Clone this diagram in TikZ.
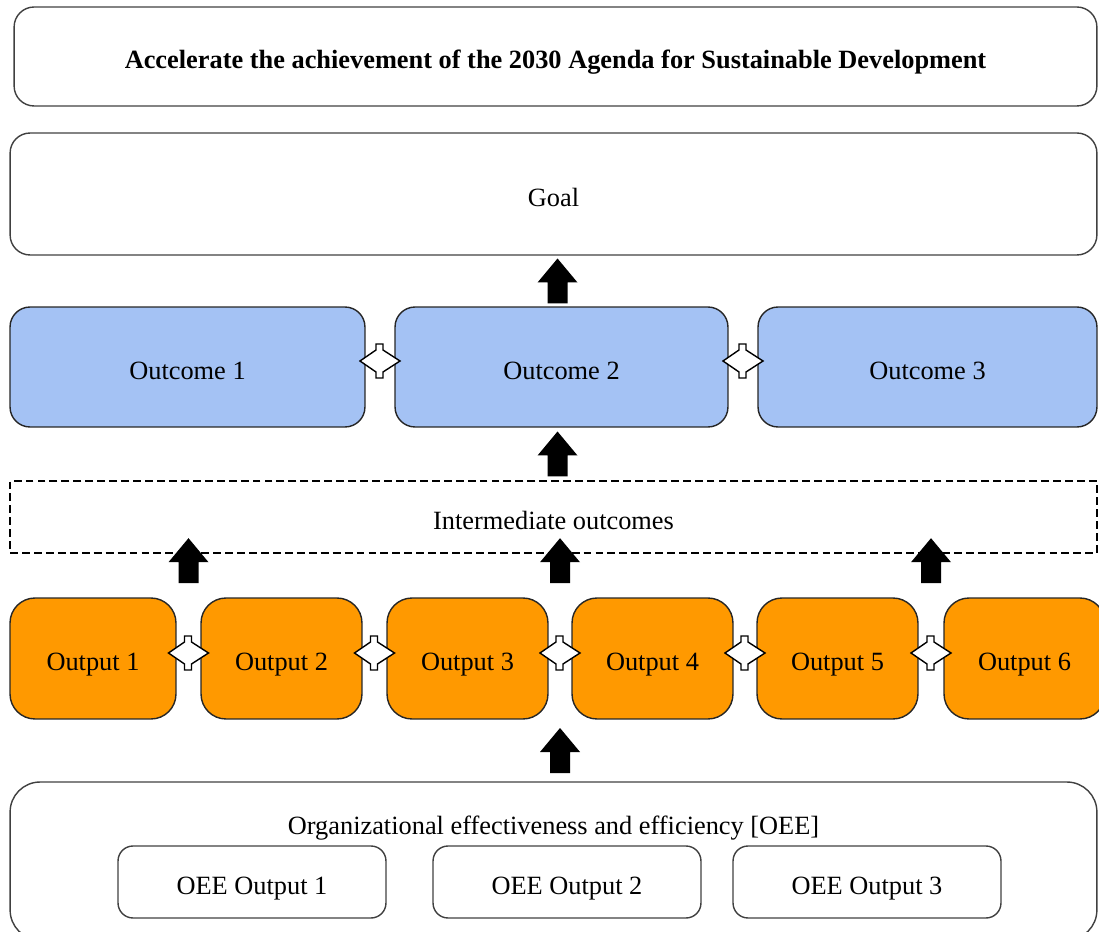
\documentclass[tikz,border=0pt]{standalone}
\usepackage{fontspec}
\setmainfont{Liberation Serif}
\usetikzlibrary{calc}

\definecolor{outcomeblue}{HTML}{A4C2F4}
\definecolor{outputorange}{HTML}{FF9900}

% block arrow pointing up, centred on #1
\newcommand{\uparrowblock}[1]{%
  \fill[black] (#1) ++(-10,22.5) -- ++(0,-21) -- ++(-10,0) -- ++(20,-24)
    -- ++(20,24) -- ++(-10,0) -- ++(0,21) -- cycle;}
% white two-headed link arrow, centred on #1
\newcommand{\linkarrow}[1]{%
  \filldraw[fill=white, draw=black, line width=0.8pt, line join=miter] (#1)
    ++(-20,0) -- ++(16,-11) -- ++(0,-6) -- ++(7,0) -- ++(0,6) -- ++(17,11)
    -- ++(-17,11) -- ++(0,6) -- ++(-7,0) -- ++(0,-6) -- cycle;}

\begin{document}
\begin{tikzpicture}[
  x=0.02cm, y=-0.02cm,
  block/.style = {draw=black!75, line width=0.8pt, rounded corners=0.4cm, minimum height=2.4cm, align=center, text height=14pt, text depth=0pt, font=\fontsize{15}{18}\selectfont},
  outcome/.style = {block, fill=outcomeblue, draw=black!85},
  output/.style = {block, fill=outputorange, draw=black!85, rounded corners=0.5cm, minimum height=2.42cm},
  inner/.style = {block, minimum width=5.36cm, minimum height=1.44cm, rounded corners=0.3cm}
]
  \useasboundingbox (0,0) rectangle (1099,932);

  % Agenda and goal
  \node[block, minimum width=21.66cm, minimum height=1.98cm, font=\bfseries\fontsize{15}{18}\selectfont] (agenda) at (555.5,56.5) {Accelerate the achievement of the 2030 Agenda for Sustainable Development};
  \node[block, minimum width=21.74cm, minimum height=2.44cm] (goal) at (553.5,194) {Goal};

  % Outcomes
  \node[outcome, minimum width=7.1cm] (outcome1) at (187.5,367) {Outcome 1};
  \node[outcome, minimum width=6.66cm] (outcome2) at (561.5,367) {Outcome 2};
  \node[outcome, minimum width=6.78cm] (outcome3) at (927.5,367) {Outcome 3};

  % Intermediate outcomes
  \node[block, dashed, dash pattern=on 4.5pt off 2.3pt, draw=black, rounded corners=0pt, minimum width=21.74cm, minimum height=1.44cm] (inter) at (553.5,517) {Intermediate outcomes};

  % Outputs
  \node[output, minimum width=3.32cm] (output1) at (93,658.5) {Output 1};
  \node[output, minimum width=3.22cm] (output2) at (281.5,658.5) {Output 2};
  \node[output, minimum width=3.22cm] (output3) at (467.5,658.5) {Output 3};
  \node[output, minimum width=3.22cm] (output4) at (652.5,658.5) {Output 4};
  \node[output, minimum width=3.22cm] (output5) at (837.5,658.5) {Output 5};
  \node[output, minimum width=3.22cm] (output6) at (1024.5,658.5) {Output 6};

  % OEE
  \node[block, minimum width=21.74cm, minimum height=3.16cm, rounded corners=0.6cm] (oee) at (553.5,861) {};
  \node[font=\fontsize{15}{18}\selectfont, text height=14pt, text depth=0pt] (oeetitle) at (553.5,822) {Organizational effectiveness and efficiency [OEE]};
  \node[inner] (oee1) at (252,882) {OEE Output 1};
  \node[inner] (oee2) at (567,882) {OEE Output 2};
  \node[inner] (oee3) at (867,882) {OEE Output 3};

  % gaps between neighbours
  \coordinate (link12) at ($(outcome1.east)!0.5!(outcome2.west)$);
  \coordinate (link23) at ($(outcome2.east)!0.5!(outcome3.west)$);
  \coordinate (gap12) at ($(output1.east)!0.5!(output2.west)$);
  \coordinate (gap23) at ($(output2.east)!0.5!(output3.west)$);
  \coordinate (gap34) at ($(output3.east)!0.5!(output4.west)$);
  \coordinate (gap45) at ($(output4.east)!0.5!(output5.west)$);
  \coordinate (gap56) at ($(output5.east)!0.5!(output6.west)$);

  % up arrows
  \uparrowblock{$(goal.south)!0.5!(outcome2.north)$}
  \uparrowblock{$(outcome2.south)!0.5!(inter.north)$}
  \uparrowblock{$(gap12 |- inter.south)+(0,7)$}
  \uparrowblock{$(gap34 |- inter.south)+(0,7)$}
  \uparrowblock{$(gap56 |- inter.south)+(0,7)$}
  \uparrowblock{$(gap34 |- output3.south)!0.5!(gap34 |- oee.north)$}

  % links
  \linkarrow{$(link12)+(0,-6)$}
  \linkarrow{$(link23)+(0,-6)$}
  \linkarrow{$(gap12)+(0,-5.5)$}
  \linkarrow{$(gap23)+(0,-5.5)$}
  \linkarrow{$(gap34)+(0,-5.5)$}
  \linkarrow{$(gap45)+(0,-5.5)$}
  \linkarrow{$(gap56)+(0,-5.5)$}

\end{tikzpicture}
\end{document}
